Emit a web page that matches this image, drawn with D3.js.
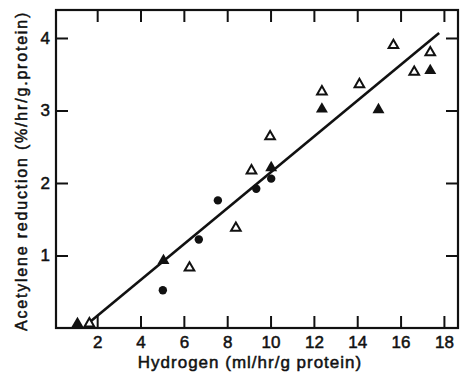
<!DOCTYPE html>
<html>
<head>
<meta charset="utf-8">
<script src="https://cdn.jsdelivr.net/npm/d3@7"></script>
<style>
  html, body { margin: 0; padding: 0; background: #fff; }
  svg { display: block; }
  text { font-family: "Liberation Sans", Arial, sans-serif; fill: #111; }
</style>
</head>
<body>
<div id="chart"></div>
<script>
// values
const dotX = [5.03, 6.69, 7.57, 9.34, 10.03];
const dotY = [0.52, 1.22, 1.76, 1.92, 2.06];

const openTriX = [1.64, 6.26, 8.40, 9.12, 9.98, 12.37, 14.10, 15.67, 16.63, 17.37];
const openTriY = [0.06, 0.83, 1.38, 2.17, 2.64, 3.26, 3.36, 3.90, 3.53, 3.80];

const fillTriX = [1.09, 5.06, 10.03, 12.37, 14.98, 17.37];
const fillTriY = [0.06, 0.93, 2.21, 3.02, 3.01, 3.55];

// regression line end points
const fitX = [1.675, 17.78];
const fitY = [0.087, 4.07];

const xTicks = [2, 4, 6, 8, 10, 12, 14, 16, 18];
const yTicks = [1, 2, 3, 4];

const width = 460, height = 372;
const plotLeft = 56, plotRight = 458, plotTop = 10, plotBottom = 328;

const svg = d3.select("#chart").append("svg")
    .attr("width", width)
    .attr("height", height);

const x = d3.scaleLinear().domain([0.1, 18.65]).range([plotLeft, plotRight]);
const y = d3.scaleLinear().domain([0, 4.386]).range([plotBottom, plotTop]);

function styleAxis(g) {
    g.select(".domain").remove();
    g.selectAll(".tick line").attr("stroke", "#111").attr("stroke-width", 2);
    g.selectAll(".tick text")
        .style("font-family", "'Liberation Sans', Arial, sans-serif")
        .style("font-size", "17px")
        .attr("fill", "#111")
        .attr("stroke", "#111")
        .attr("stroke-width", 0.5);
}

svg.append("g")
    .attr("transform", "translate(0," + plotBottom + ")")
    .call(d3.axisBottom(x).tickValues(xTicks).tickFormat(d3.format("d"))
        .tickSizeInner(-12).tickSizeOuter(0).tickPadding(8))
    .call(styleAxis);

svg.append("g")
    .attr("transform", "translate(0," + plotTop + ")")
    .call(d3.axisTop(x).tickValues(xTicks).tickSizeInner(-12).tickSizeOuter(0).tickFormat(""))
    .call(styleAxis);

svg.append("g")
    .attr("transform", "translate(" + plotLeft + ",0)")
    .call(d3.axisLeft(y).tickValues(yTicks).tickFormat(d3.format("d"))
        .tickSizeInner(-12).tickSizeOuter(0).tickPadding(6))
    .call(styleAxis);

svg.append("g")
    .attr("transform", "translate(" + plotRight + ",0)")
    .call(d3.axisRight(y).tickValues(yTicks).tickSizeInner(-12).tickSizeOuter(0).tickFormat(""))
    .call(styleAxis);

// frame
svg.append("rect")
    .attr("x", plotLeft).attr("y", plotTop)
    .attr("width", plotRight - plotLeft).attr("height", plotBottom - plotTop)
    .attr("fill", "none")
    .attr("stroke", "#111")
    .attr("stroke-width", 2.2);

// fitted line
svg.append("path")
    .datum(d3.zip(fitX, fitY))
    .attr("fill", "none")
    .attr("stroke", "#111")
    .attr("stroke-width", 2.6)
    .attr("d", d3.line().x(d => x(d[0])).y(d => y(d[1])));

// dots
svg.append("g").selectAll("circle")
    .data(d3.zip(dotX, dotY))
    .join("circle")
    .attr("cx", d => x(d[0]))
    .attr("cy", d => y(d[1]))
    .attr("r", 4.2)
    .attr("fill", "#111");

const tri = d3.symbol().type(d3.symbolTriangle);

svg.append("g").selectAll("path")
    .data(d3.zip(openTriX, openTriY))
    .join("path")
    .attr("transform", d => "translate(" + x(d[0]) + "," + y(d[1]) + ")")
    .attr("d", tri.size(40)())
    .attr("fill", "#fff")
    .attr("stroke", "#111")
    .attr("stroke-width", 2);

svg.append("g").selectAll("path")
    .data(d3.zip(fillTriX, fillTriY))
    .join("path")
    .attr("transform", d => "translate(" + x(d[0]) + "," + y(d[1]) + ")")
    .attr("d", tri.size(62)())
    .attr("fill", "#111");

// axis titles
svg.append("text")
    .attr("x", 250)
    .attr("y", 368)
    .attr("text-anchor", "middle")
    .attr("stroke", "#111")
    .attr("stroke-width", 0.5)
    .style("font-size", "17px")
    .style("letter-spacing", "1px")
    .text("Hydrogen (ml/hr/g protein)");

svg.append("text")
    .attr("transform", "translate(27,171) rotate(-90)")
    .attr("text-anchor", "middle")
    .attr("stroke", "#111")
    .attr("stroke-width", 0.5)
    .style("font-size", "16px")
    .style("letter-spacing", "1.8px")
    .text("Acetylene reduction (%/hr/g.protein)");
</script>
</body>
</html>
